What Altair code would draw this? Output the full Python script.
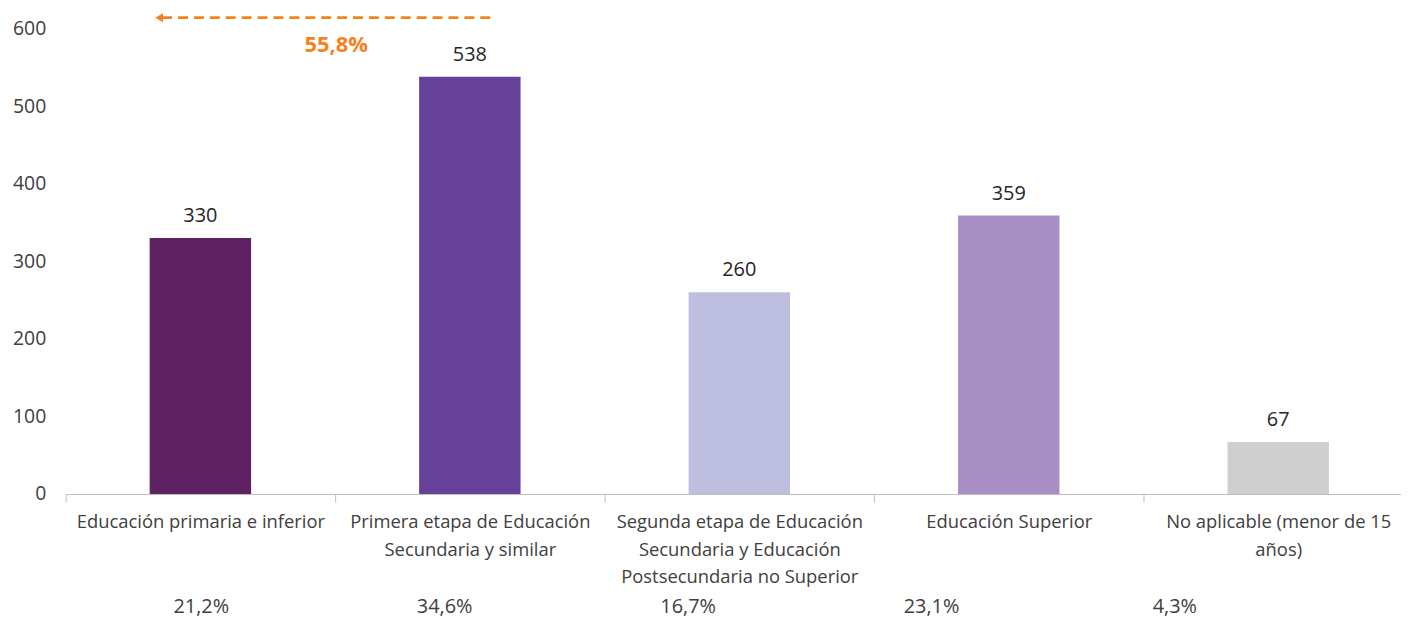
import altair as alt
import pandas as pd

categories = [
    "Educación primaria e inferior",
    "Primera etapa de Educación|Secundaria y similar",
    "Segunda etapa de Educación|Secundaria y Educación|Postsecundaria no Superior",
    "Educación Superior",
    "No aplicable (menor de 15|años)",
]
values = [330, 538, 260, 359, 67]
shares = ["21,2%", "34,6%", "16,7%", "23,1%", "4,3%"]
bar_colors = ["#5E2262", "#654199", "#BEBEE0", "#A890C4", "#CFCFCF"]
cumulative_label = ["55,8%"]

df = pd.DataFrame({"cat": categories, "value": values, "share": shares, "color": bar_colors})

W, H = 1343, 468
FONT = "Open Sans"
ORANGE = "#F58220"
TXT = "#404040"

x_main = alt.X(
    "cat:N", sort=categories, title=None,
    scale=alt.Scale(range=[0, 1355], paddingInner=0, paddingOuter=0),
    axis=alt.Axis(labelAngle=0, labelExpr="split(datum.label, '|')", tickBand="extent",
                  domainColor="#BFBFBF", tickColor="#BFBFBF", tickSize=8, domainWidth=1.2,
                  labelFontSize=18.5, labelColor=TXT, labelFont=FONT, labelPadding=11,
                  labelLineHeight=27.5, labelLimit=0, labelBaseline="top"),
)
y_main = alt.Y(
    "value:Q", title=None, scale=alt.Scale(domain=[0, 600]),
    axis=alt.Axis(values=[0, 100, 200, 300, 400, 500, 600], grid=False, domain=False, ticks=False,
                  labelFontSize=19.5, labelColor=TXT, labelFont=FONT, labelPadding=20),
)

base = alt.Chart(df)
bars = base.mark_bar(size=102).encode(x=x_main, y=y_main, color=alt.Color("color:N", scale=None))
vals = base.mark_text(dy=-12, baseline="bottom", fontSize=20, font=FONT, color="#262626").encode(
    x=alt.X("cat:N", sort=categories), y="value:Q", text="value:Q")

main = alt.layer(bars, vals)

pct = base.mark_text(fontSize=20, font=FONT, color=TXT, baseline="middle").encode(
    x=alt.X("cat:N", sort=categories, axis=None,
            scale=alt.Scale(range=[14, 1238], paddingInner=0, paddingOuter=0)),
    y=alt.value(H + 114),
    text="share:N",
)

ann = alt.Chart(pd.DataFrame({"t": cumulative_label}))
arrow_line = ann.mark_rule(strokeDash=[10, 6], strokeWidth=2.8, color=ORANGE).encode(
    x=alt.value(97), x2=alt.value(432), y=alt.value(-11))
arrow_head = ann.mark_point(shape="triangle-left", filled=True, size=80, color=ORANGE, opacity=1).encode(
    x=alt.value(94), y=alt.value(-11))
arrow_text = ann.mark_text(fontSize=22, fontWeight="bold", font=FONT, color=ORANGE).encode(
    x=alt.value(272), y=alt.value(16), text="t:N")

chart = alt.layer(main, pct, arrow_line, arrow_head, arrow_text).resolve_scale(x="independent").properties(
    width=W, height=H,
    autosize=alt.AutoSizeParams(type="none"),
    padding={"left": 58, "top": 19, "right": 0, "bottom": 128},
    background="white",
).configure_view(stroke=None)

chart.save("out.html", embed_options={"renderer": "svg", "actions": False})
